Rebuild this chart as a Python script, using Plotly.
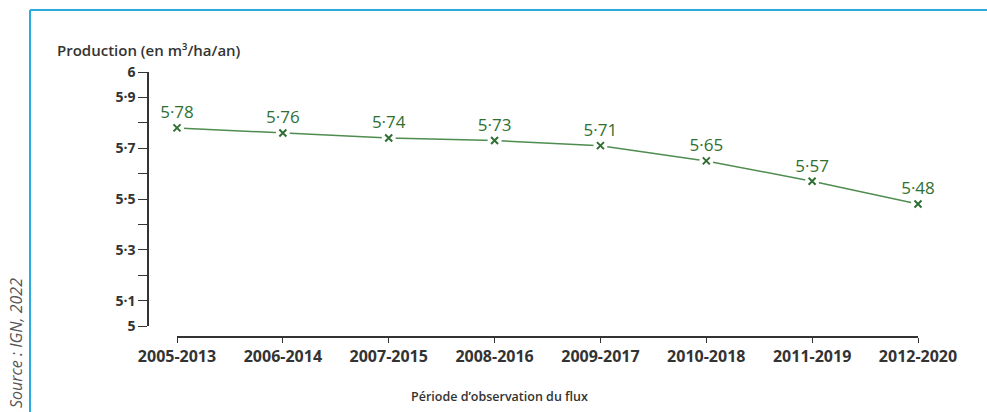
import plotly.graph_objects as go

periods = ["2005-2013", "2006-2014", "2007-2015", "2008-2016",
           "2009-2017", "2010-2018", "2011-2019", "2012-2020"]
production = [5.78, 5.76, 5.74, 5.73, 5.71, 5.65, 5.57, 5.48]
ytick_vals = [5.0, 5.1, 5.2, 5.3, 5.4, 5.5, 5.6, 5.7, 5.8, 5.9, 6.0]
ytick_text = ["5", "5·1", "", "5·3", "", "5·5", "", "5·7", "", "5·9", "6"]

labels = [f"{v:.2f}".replace(".", "·") for v in production]
GREEN = "#2f6f32"
GRAY = "#333333"
FONT = "Open Sans"
xs = list(range(len(periods)))

fig = go.Figure()
fig.add_trace(go.Scatter(x=xs, y=production, mode="lines", cliponaxis=False,
                         line=dict(color="#4f8c4f", width=1.5), hoverinfo="skip"))
fig.add_trace(go.Scatter(x=xs, y=production, mode="markers", cliponaxis=False,
                         marker=dict(symbol="circle", size=14, color="white"),
                         hoverinfo="skip"))
fig.add_trace(go.Scatter(x=xs, y=production, mode="markers+text", cliponaxis=False,
                         marker=dict(symbol="x-thin", size=7,
                                     line=dict(color=GREEN, width=2)),
                         text=labels, textposition="top center",
                         textfont=dict(family=FONT, size=17, color=GREEN, weight=500)))

L, R, T, B = 148, 918, 72, 337
W, H = 987, 412
pw, ph = R - L, B - T
def px(x):
    return (x - L) / pw
def py(y):
    return (B - y) / ph

fig.update_layout(
    width=W, height=H,
    margin=dict(l=L, r=W - R, t=T, b=H - B, pad=0),
    plot_bgcolor="white", paper_bgcolor="white",
    showlegend=False,
    font=dict(family=FONT, color=GRAY),
    xaxis=dict(
        domain=[px(177), 1], range=[0, len(periods) - 1],
        anchor="free", position=0,
        tickmode="array", tickvals=xs, ticktext=periods,
        showline=True, linecolor="#333", linewidth=1.5,
        ticks="outside", ticklen=5, tickwidth=1.2, tickcolor="#333",
        showgrid=False, zeroline=False,
        tickfont=dict(family=FONT, size=16, color=GRAY, weight="bold"),
    ),
    yaxis=dict(
        domain=[py(326), 1], range=[5, 6],
        anchor="free", position=0,
        tickmode="array", tickvals=ytick_vals, ticktext=ytick_text,
        showline=True, linecolor="#333", linewidth=1.5,
        ticks="outside", ticklen=9, tickwidth=1.2, tickcolor="#333",
        showgrid=False, zeroline=False,
        tickfont=dict(family=FONT, size=14, color=GRAY, weight="bold"),
    ),
    shapes=[
        dict(type="line", xref="paper", yref="paper", x0=px(30), x1=px(W + 5),
             y0=py(10), y1=py(10), line=dict(color="#29aae1", width=2)),
        dict(type="line", xref="paper", yref="paper", x0=px(30), x1=px(30),
             y0=py(10), y1=py(H + 5), line=dict(color="#29aae1", width=2)),
    ],
    annotations=[
        dict(text="Production (en m³/ha/an)", xref="paper", yref="paper",
             x=px(55), y=py(50), xanchor="left", yanchor="middle", showarrow=False,
             font=dict(family=FONT, size=15, color=GRAY, weight=600)),
        dict(text="Période d’observation du flux", xref="paper", yref="paper",
             x=px(499), y=py(396), xanchor="center", yanchor="middle", showarrow=False,
             font=dict(family=FONT, size=12.5, color=GRAY, weight=600)),
        dict(text="<i>Source : IGN, 2022</i>", xref="paper", yref="paper",
             x=px(16), y=py(343), xanchor="center", yanchor="middle", showarrow=False,
             textangle=-90,
             font=dict(family=FONT, size=16, color="#555555")),
    ],
)

fig.write_html("out.html", config={"displayModeBar": False},
               post_script="document.body.style.margin='0px';")
